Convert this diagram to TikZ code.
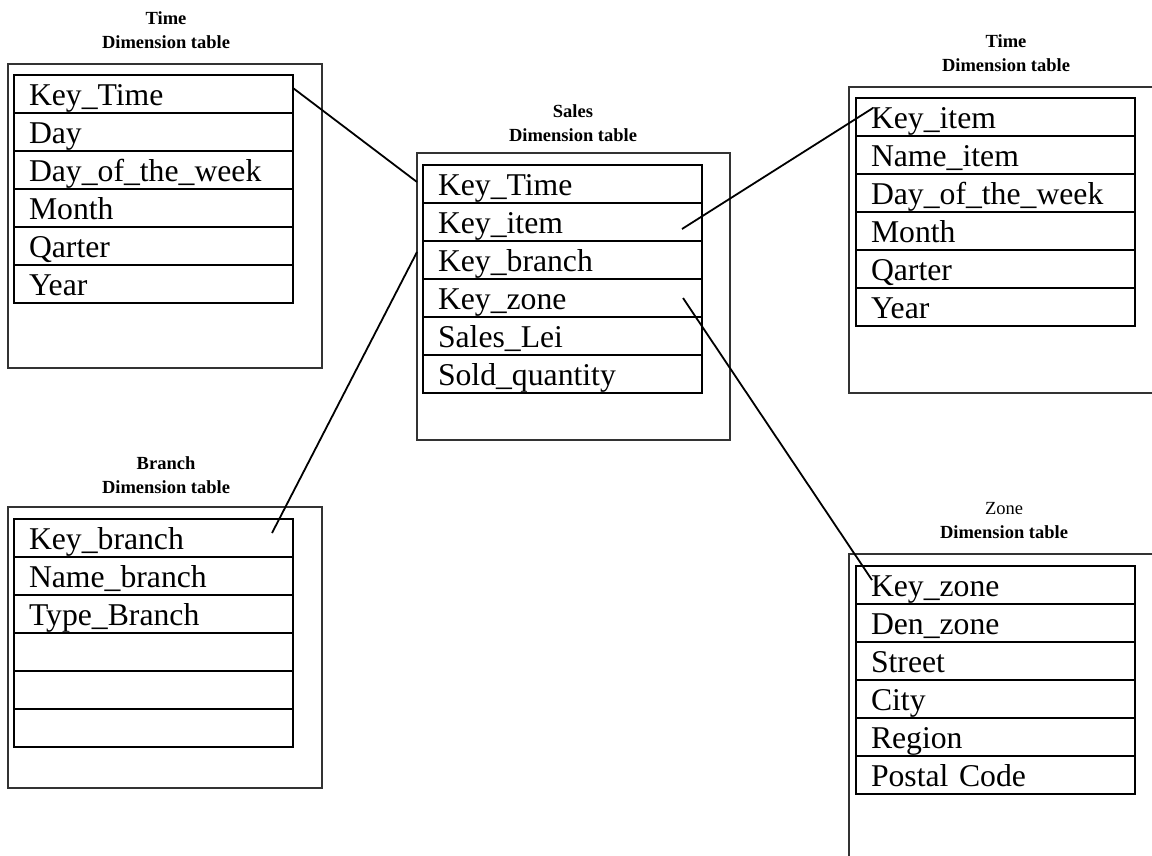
\documentclass[tikz,border=0pt]{standalone}
\usepackage{fontspec}
\setmainfont{Liberation Serif}
\begin{document}
\begin{tikzpicture}[x=1pt,y=-1pt,
  outerbox/.style={draw=black!80, line width=1.8pt, inner sep=0pt, outer sep=0pt},
  rowbox/.style={draw=black, line width=2.6pt, inner xsep=15pt, inner ysep=0pt, outer sep=0pt,
    text width=249pt, align=left, text height=30pt, text depth=8pt, anchor=north west,
    font=\fontsize{31.7}{36}\selectfont},
  title/.style={align=center, inner sep=0pt, font=\bfseries\fontsize{18.5}{24}\selectfont},
  link/.style={draw=black, line width=1.8pt}]
\useasboundingbox (0,0) rectangle (1152,855);
\clip (0,0) rectangle (1152,855);

% titles
\node[title] (tltitle) at (166,30) {Time\\Dimension table};
\node[title] (salestitle) at (573,123.5) {Sales\\Dimension table};
\node[title] (rttitle) at (1006,53.5) {Time\\Dimension table};
\node[title] (brtitle) at (166,475.5) {Branch\\Dimension table};
\node[title] (zntitle) at (1004,521) {{\mdseries Zone}\\Dimension table};

% outer boxes
\node[outerbox, minimum width=314pt, minimum height=304pt] (tlbox) at (165,216) {};
\node[outerbox, minimum width=313pt, minimum height=287pt] (salesbox) at (573.5,296.5) {};
\node[outerbox, minimum width=340pt, minimum height=306pt] (rtbox) at (1019,240) {};
\node[outerbox, minimum width=314pt, minimum height=281pt] (brbox) at (165,647.5) {};
\node[outerbox, minimum width=340pt, minimum height=340pt] (znbox) at (1019,724) {};

% left Time table
\node[rowbox] (tl1) at (14,75) {Key\_Time};
\node[rowbox] (tl2) at (14,113) {Day};
\node[rowbox] (tl3) at (14,151) {Day\_of\_the\_week};
\node[rowbox] (tl4) at (14,189) {Month};
\node[rowbox] (tl5) at (14,227) {Qarter};
\node[rowbox] (tl6) at (14,265) {Year};

% Sales table
\node[rowbox] (sr1) at (423,165) {Key\_Time};
\node[rowbox] (sr2) at (423,203) {Key\_item};
\node[rowbox] (sr3) at (423,241) {Key\_branch};
\node[rowbox] (sr4) at (423,279) {Key\_zone};
\node[rowbox] (sr5) at (423,317) {Sales\_Lei};
\node[rowbox] (sr6) at (423,355) {Sold\_quantity};

% right Time table
\node[rowbox] (rt1) at (856,98) {Key\_item};
\node[rowbox] (rt2) at (856,136) {Name\_item};
\node[rowbox] (rt3) at (856,174) {Day\_of\_the\_week};
\node[rowbox] (rt4) at (856,212) {Month};
\node[rowbox] (rt5) at (856,250) {Qarter};
\node[rowbox] (rt6) at (856,288) {Year};

% Branch table
\node[rowbox] (br1) at (14,519) {Key\_branch};
\node[rowbox] (br2) at (14,557) {Name\_branch};
\node[rowbox] (br3) at (14,595) {Type\_Branch};
\node[rowbox] (br4) at (14,633) {};
\node[rowbox] (br5) at (14,671) {};
\node[rowbox] (br6) at (14,709) {};

% Zone table
\node[rowbox] (zr1) at (856,566) {Key\_zone};
\node[rowbox] (zr2) at (856,604) {Den\_zone};
\node[rowbox] (zr3) at (856,642) {Street};
\node[rowbox] (zr4) at (856,680) {City};
\node[rowbox] (zr5) at (856,718) {Region};
\node[rowbox] (zr6) at (856,756) {Postal Code};

% connector end points
\coordinate (a1) at ([yshift=6pt]tl1.east);
\coordinate (b1) at ([yshift=2pt]salesbox.west |- sr1.center);
\coordinate (a2) at ([xshift=-20pt,yshift=-7pt]sr2.east);
\coordinate (b2) at ([xshift=17pt,yshift=9pt]rt1.west);
\coordinate (a3) at ([yshift=-11pt]salesbox.west |- sr3.north);
\coordinate (b3) at ([xshift=-21pt,yshift=5pt]br1.east);
\coordinate (a4) at ([xshift=-19pt]sr4.east);
\coordinate (b4) at ([xshift=16pt,yshift=5pt]zr1.west);

\draw[link] (a1) -- (b1);
\draw[link] (a2) -- (b2);
\draw[link] (a3) -- (b3);
\draw[link] (a4) -- (b4);
\end{tikzpicture}
\end{document}
